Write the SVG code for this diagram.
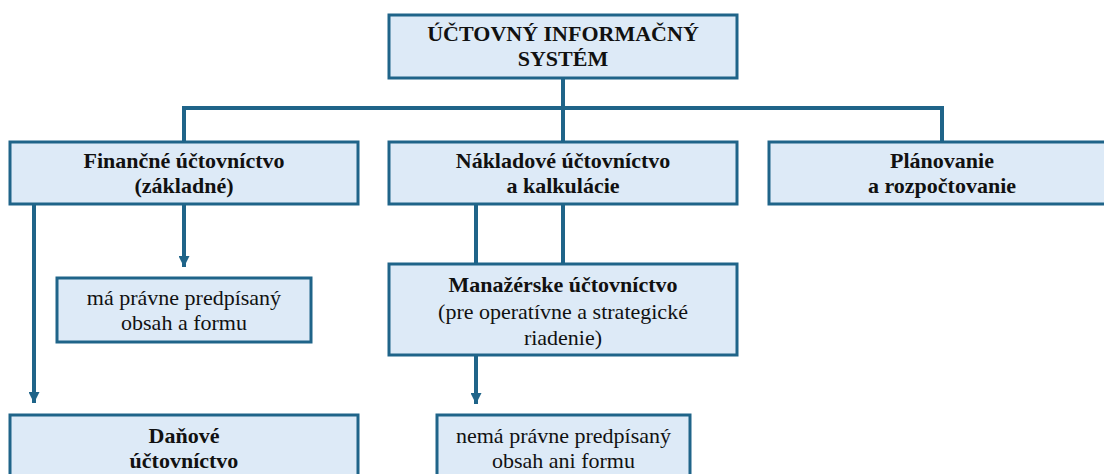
<svg xmlns="http://www.w3.org/2000/svg" width="1104" height="474" viewBox="0 0 1104 474">
<style>
.box{fill:#DDEAF7;stroke:#1F6489;stroke-width:3}
.ln{fill:none;stroke:#1F6489;stroke-width:4}
text{font-family:"Liberation Serif","Times New Roman",serif;font-size:22px;fill:#111;text-anchor:middle}
.b{font-weight:bold}
</style>
<defs>
<marker id="ah" viewBox="0 0 10 10" refX="10" refY="5" markerWidth="11" markerHeight="11" markerUnits="userSpaceOnUse" orient="auto">
<path d="M0,0 L10,5 L0,10 z" fill="#1F6489"/>
</marker>
</defs>
<rect width="1104" height="474" fill="#fff"/>
<g id="connectors">
<path class="ln" d="M563,78 V141"/>
<path class="ln" d="M184,141 V108 H942 V141"/>
<path class="ln" d="M184,204 V267" marker-end="url(#ah)"/>
<path class="ln" d="M34,204 V403" marker-end="url(#ah)"/>
<path class="ln" d="M476,204 V264"/>
<path class="ln" d="M563,204 V264"/>
<path class="ln" d="M476,355 V404" marker-end="url(#ah)"/>
</g>
<g id="n-system">
<rect class="box" x="389" y="15" width="348" height="63"/>
<text class="b" x="563" y="41">ÚČTOVNÝ INFORMAČNÝ</text>
<text class="b" x="563" y="66">SYSTÉM</text>
</g>
<g id="n-financne">
<rect class="box" x="10" y="142" width="348" height="62"/>
<text class="b" x="184" y="168">Finančné účtovníctvo</text>
<text class="b" x="184" y="193">(základné)</text>
</g>
<g id="n-nakladove">
<rect class="box" x="389" y="142" width="348" height="62"/>
<text class="b" x="563" y="168">Nákladové účtovníctvo</text>
<text class="b" x="563" y="193">a kalkulácie</text>
</g>
<g id="n-planovanie">
<rect class="box" x="769" y="142" width="346" height="62"/>
<text class="b" x="942" y="168">Plánovanie</text>
<text class="b" x="942" y="193">a rozpočtovanie</text>
</g>
<g id="n-ma">
<rect class="box" x="57" y="278" width="254" height="64"/>
<text x="184" y="305">má právne predpísaný</text>
<text x="184" y="330">obsah a formu</text>
</g>
<g id="n-manazerske">
<rect class="box" x="389" y="264" width="348" height="91"/>
<text class="b" x="563" y="292">Manažérske účtovníctvo</text>
<text x="563" y="319">(pre operatívne a strategické</text>
<text x="563" y="345">riadenie)</text>
</g>
<g id="n-danove">
<rect class="box" x="10" y="415" width="348" height="70"/>
<text class="b" x="184" y="443">Daňové</text>
<text class="b" x="184" y="468">účtovníctvo</text>
</g>
<g id="n-nema">
<rect class="box" x="437" y="415" width="253" height="70"/>
<text x="563.5" y="443">nemá právne predpísaný</text>
<text x="563.5" y="468">obsah ani formu</text>
</g>
</svg>
